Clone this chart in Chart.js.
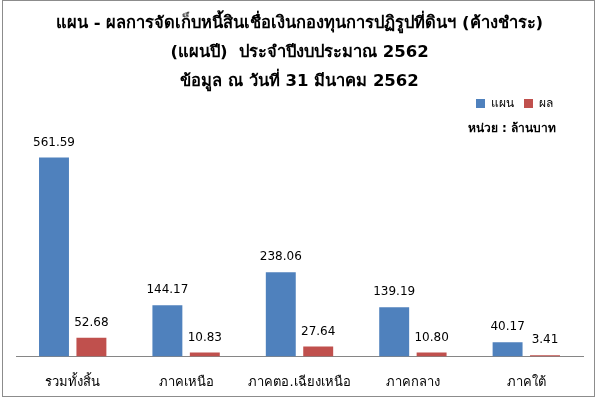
<!DOCTYPE html>
<html>
<head>
<meta charset="utf-8">
<script src="https://cdn.jsdelivr.net/npm/chart.js@4.4.1/dist/chart.umd.min.js"></script>
<style>
  body { margin: 0; background: #fff; }
  .box { position: absolute; left: 2px; top: 0px; width: 591px; height: 395px; border: 1px solid #8c8c8c; }
  canvas { position: absolute; left: 0; top: 0; }
</style>
</head>
<body>
<div class="box"></div>
<canvas id="c" width="597" height="399"></canvas>
<script>
const categories = ['รวมทั้งสิ้น', 'ภาคเหนือ', 'ภาคตอ.เฉียงเหนือ', 'ภาคกลาง', 'ภาคใต้'];
const planValues = [561.59, 144.17, 238.06, 139.19, 40.17];
const actualValues = [52.68, 10.83, 27.64, 10.80, 3.41];
const titleLines = [
  'แผน - ผลการจัดเก็บหนี้สินเชื่อเงินกองทุนการปฏิรูปที่ดินฯ (ค้างชำระ)',
  '(แผนปี)  ประจำปีงบประมาณ 2562',
  'ข้อมูล ณ วันที่ 31 มีนาคม 2562'
];
const unitText = 'หน่วย : ล้านบาท';

const FONT = 'Tahoma, "DejaVu Sans", "Noto Sans", sans-serif';

// draw value labels above the bars
const valueLabels = {
  id: 'valueLabels',
  afterDatasetsDraw(chart) {
    const ctx = chart.ctx;
    ctx.save();
    ctx.font = '12px ' + FONT;
    ctx.fillStyle = '#000';
    ctx.textAlign = 'center';
    ctx.textBaseline = 'middle';
    chart.data.datasets.forEach((ds, i) => {
      chart.getDatasetMeta(i).data.forEach((bar, j) => {
        ctx.fillText(ds.data[j].toFixed(2), bar.x, bar.y - 15);
      });
    });
    ctx.restore();
  }
};

// legend + unit note sit a bit in from the right edge
const shiftTop = {
  id: 'shiftTop',
  afterLayout(chart) {
    chart.boxes.forEach(b => {
      if (b === chart.legend) b.right -= 20;
      else if (b.position === 'top' && b.options.text === unitText) b.right -= 27;
    });
  }
};

new Chart(document.getElementById('c'), {
  type: 'bar',
  data: {
    labels: categories,
    datasets: [
      { label: 'แผน', data: planValues, backgroundColor: '#4F81BD' },
      { label: 'ผล', data: actualValues, backgroundColor: '#C0504D' }
    ]
  },
  options: {
    responsive: false,
    animation: false,
    layout: { padding: { left: 16, right: 14, bottom: -9 } },
    datasets: { bar: { categoryPercentage: 0.66, barPercentage: 0.8 } },
    scales: {
      x: {
        grid: { display: false, drawTicks: false },
        border: { display: true, color: '#868686' },
        ticks: { color: '#000', font: { family: FONT, size: 13 }, padding: 18 }
      },
      y: { display: false, min: 0, max: 600 }
    },
    plugins: {
      tooltip: { enabled: false },
      title: {
        display: true,
        text: titleLines,
        color: '#000',
        font: { family: FONT, size: 16.5, weight: 'bold', lineHeight: 1.77 },
        padding: { top: 9, bottom: -9 }
      },
      legend: {
        align: 'end',
        labels: {
          boxWidth: 9, boxHeight: 9, padding: 10, color: '#000',
          font: { family: FONT, size: 12 }
        }
      },
      subtitle: {
        display: true,
        text: unitText,
        align: 'end',
        weight: 900,
        color: '#000',
        font: { family: FONT, size: 12, weight: 'bold' },
        padding: { top: 2, bottom: 8 }
      }
    }
  },
  plugins: [valueLabels, shiftTop]
});
</script>
</body>
</html>
